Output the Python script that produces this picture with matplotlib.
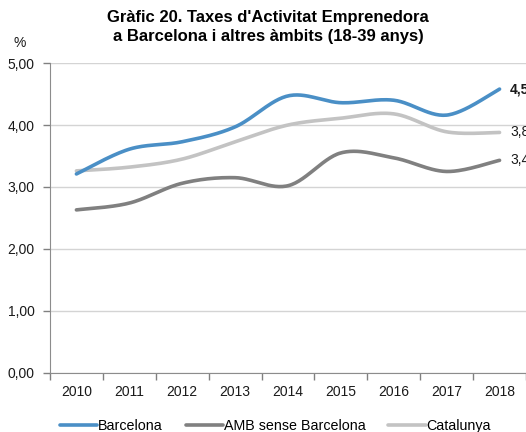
import numpy as np
import matplotlib.pyplot as plt
from matplotlib.ticker import FuncFormatter

plt.rcParams['font.family'] = ['Liberation Sans', 'DejaVu Sans']

years = ['2010', '2011', '2012', '2013', '2014', '2015', '2016', '2017', '2018']
barcelona = [3.21, 3.61, 3.73, 3.97, 4.47, 4.36, 4.40, 4.16, 4.58]
amb = [2.63, 2.74, 3.06, 3.15, 3.02, 3.55, 3.47, 3.25, 3.43]
catalunya = [3.26, 3.32, 3.45, 3.73, 4.00, 4.11, 4.18, 3.89, 3.88]
end_labels = ['4,58', '3,43', '3,88']


def smooth(y, n=30):
    # Excel-style smoothed line: cubic bezier with catmull-rom control points
    y = np.asarray(y, dtype=float)
    x = np.arange(len(y), dtype=float)
    pts = np.column_stack([x, y])
    out = [pts[0]]
    t = np.linspace(0, 1, n)[1:, None]
    for i in range(len(pts) - 1):
        p0 = pts[max(i - 1, 0)]
        p1 = pts[i]
        p2 = pts[i + 1]
        p3 = pts[min(i + 2, len(pts) - 1)]
        c1 = p1 + (p2 - p0) / 6
        c2 = p2 - (p3 - p1) / 6
        seg = ((1 - t) ** 3) * p1 + 3 * ((1 - t) ** 2) * t * c1 + 3 * (1 - t) * t ** 2 * c2 + t ** 3 * p2
        out.extend(seg)
    out = np.array(out)
    return out[:, 0], out[:, 1]


fig = plt.figure(figsize=(5.26, 4.32), dpi=100)
ax = fig.add_axes([0.095, 0.137, 0.905, 0.717])

series = [
    ('Barcelona', barcelona, '#4a8fc6'),
    ('AMB sense Barcelona', amb, '#808080'),
    ('Catalunya', catalunya, '#c3c3c3'),
]
for k in [2, 1, 0]:
    name, vals, col = series[k]
    xs, ys = smooth(vals)
    ax.plot(xs, ys, color=col, lw=2.6, solid_capstyle='round', label=name, zorder=3 + (2 - k))

for (name, vals, col), lab in zip(series, end_labels):
    ax.text(len(vals) - 1 + 0.2, vals[-1], lab, va='center', ha='left', fontsize=10,
            fontweight='bold' if name == 'Barcelona' else 'normal', color='#1a1a1a', clip_on=False)

ax.set_ylim(0, 5)
ax.set_xlim(-0.5, len(years) - 0.5)
ax.set_yticks(np.arange(0, 5.01, 1))
ax.yaxis.set_major_formatter(FuncFormatter(lambda v, p: f'{v:.2f}'.replace('.', ',')))
ax.yaxis.grid(True, color='#d4d4d4', lw=1)
ax.set_axisbelow(True)

ax.set_xticks(np.arange(-0.5, len(years), 1))
ax.set_xticklabels([])
ax.set_xticks(np.arange(len(years)), minor=True)
ax.set_xticklabels(years, minor=True)
ax.tick_params(axis='x', which='major', length=5, color='#808080', width=1)
ax.tick_params(axis='x', which='minor', length=0, pad=9, labelsize=10, labelcolor='#1a1a1a')
ax.tick_params(axis='y', length=5, color='#808080', width=1, labelsize=10, labelcolor='#1a1a1a', pad=6)

for s in ['top', 'right']:
    ax.spines[s].set_visible(False)
for s in ['left', 'bottom']:
    ax.spines[s].set_color('#8c8c8c')

fig.text(0.51, 0.978, "Gràfic 20. Taxes d'Activitat Emprenedora\na Barcelona i altres àmbits (18-39 anys)",
         ha='center', va='top', fontsize=12, fontweight='bold', linespacing=1.35)
fig.text(0.038, 0.9, '%', fontsize=10, ha='center', va='center', color='#1a1a1a')

handles, labels = ax.get_legend_handles_labels()
idx = [labels.index(s[0]) for s in series]
fig.legend([handles[i] for i in idx], [labels[i] for i in idx], loc='lower left',
           bbox_to_anchor=(0.09, -0.032), ncol=3, frameon=False, fontsize=10.3,
           handlelength=2.6, handletextpad=0.05, columnspacing=1.6)

fig.savefig('out.png', dpi=100)
